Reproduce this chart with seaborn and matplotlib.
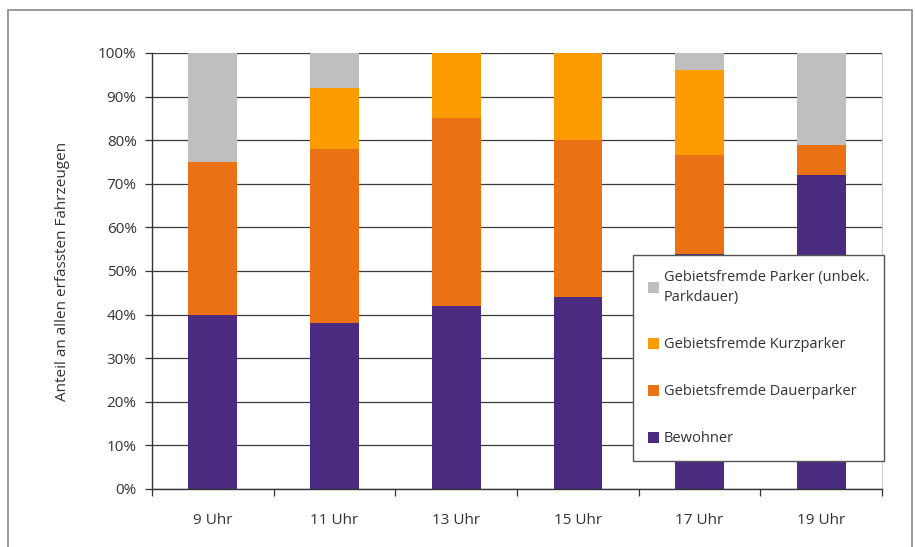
import matplotlib
matplotlib.use("Agg")
import matplotlib.pyplot as plt
import seaborn as sns
import pandas as pd
import numpy as np
from matplotlib.patches import Rectangle, Patch
from matplotlib.ticker import FixedLocator, PercentFormatter

categories = ["9 Uhr", "11 Uhr", "13 Uhr", "15 Uhr", "17 Uhr", "19 Uhr"]
bewohner = [40, 38, 42, 44, 54, 72]
dauerparker = [35, 40, 43, 36, 22.5, 7]
kurzparker = [0, 14, 15, 20, 19.5, 0]
unbekannt = [25, 8, 0, 0, 4, 21]

series_names = ["Bewohner", "Gebietsfremde Dauerparker", "Gebietsfremde Kurzparker",
                "Gebietsfremde Parker (unbek.\nParkdauer)"]
series_values = [bewohner, dauerparker, kurzparker, unbekannt]
colors = ["#4b2b80", "#ea7114", "#fd9c00", "#bfbfbf"]

sns.set_style("white")
plt.rcParams['font.family'] = ['Open Sans', 'DejaVu Sans']

fig = plt.figure(figsize=(9.15, 5.47), dpi=100)
fig.patch.set_facecolor("white")
fig.add_artist(Rectangle((8 / 915, -0.01), 904 / 915, (547 - 10) / 547 + 0.01,
                         transform=fig.transFigure, fill=False,
                         edgecolor="#8a8a8a", linewidth=1.2))

ax = fig.add_axes([152 / 915, (547 - 489) / 547, 730 / 915, 436 / 547])

bottom = np.zeros(len(categories))
for name, vals, col in zip(series_names, series_values, colors):
    df = pd.DataFrame({"cat": categories, "val": vals})
    sns.barplot(data=df, x="cat", y="val", color=col, bottom=bottom, width=0.4,
                ax=ax, saturation=1, linewidth=0, order=categories)
    bottom = bottom + np.array(vals)

ax.set_xlim(-0.5, 5.5)
ax.set_ylim(0, 100)
ax.set_yticks(np.arange(0, 101, 10))
ax.yaxis.set_major_formatter(PercentFormatter(decimals=0))
ax.grid(axis="y", color="#3a3a3a", linewidth=0.9)
ax.set_axisbelow(True)

ax.spines["top"].set_visible(False)
ax.spines["right"].set_color("#d0d0d0")
ax.spines["left"].set_color("#333333")
ax.spines["bottom"].set_color("#333333")
ax.spines["left"].set_linewidth(1.0)
ax.spines["bottom"].set_linewidth(1.0)

ax.tick_params(axis="y", left=True, length=5, width=0.9, color="#333333",
               labelsize=11, labelcolor="#333333", pad=6)
ax.tick_params(axis="x", bottom=False, labelsize=11, labelcolor="#333333", pad=14)
ax.xaxis.set_minor_locator(FixedLocator(np.arange(-0.5, 6, 1)))
ax.tick_params(axis="x", which="minor", bottom=True, length=5, width=0.9, color="#333333")

ax.set_xlabel("")
ax.set_ylabel("Anteil an allen erfassten Fahrzeugen", fontsize=11, color="#333333", labelpad=20)

handles = [Patch(facecolor=c, edgecolor="none") for c in colors[::-1]]
labels = series_names[::-1]
leg = ax.legend(handles, labels, loc="upper left",
                bbox_to_anchor=((633 - 152) / 730, (489 - 255) / 436),
                borderaxespad=0, frameon=True, fancybox=False, framealpha=1,
                edgecolor="#555555", fontsize=10.5,
                handlelength=0.8, handleheight=0.8, handletextpad=0.3,
                labelspacing=2.2, borderpad=1.0, labelcolor="#333333")
leg.get_texts()[0].set_linespacing(1.5)
leg.get_frame().set_linewidth(1.0)
leg.set_zorder(10)

fig.savefig("out.png", dpi=100, facecolor="white")
